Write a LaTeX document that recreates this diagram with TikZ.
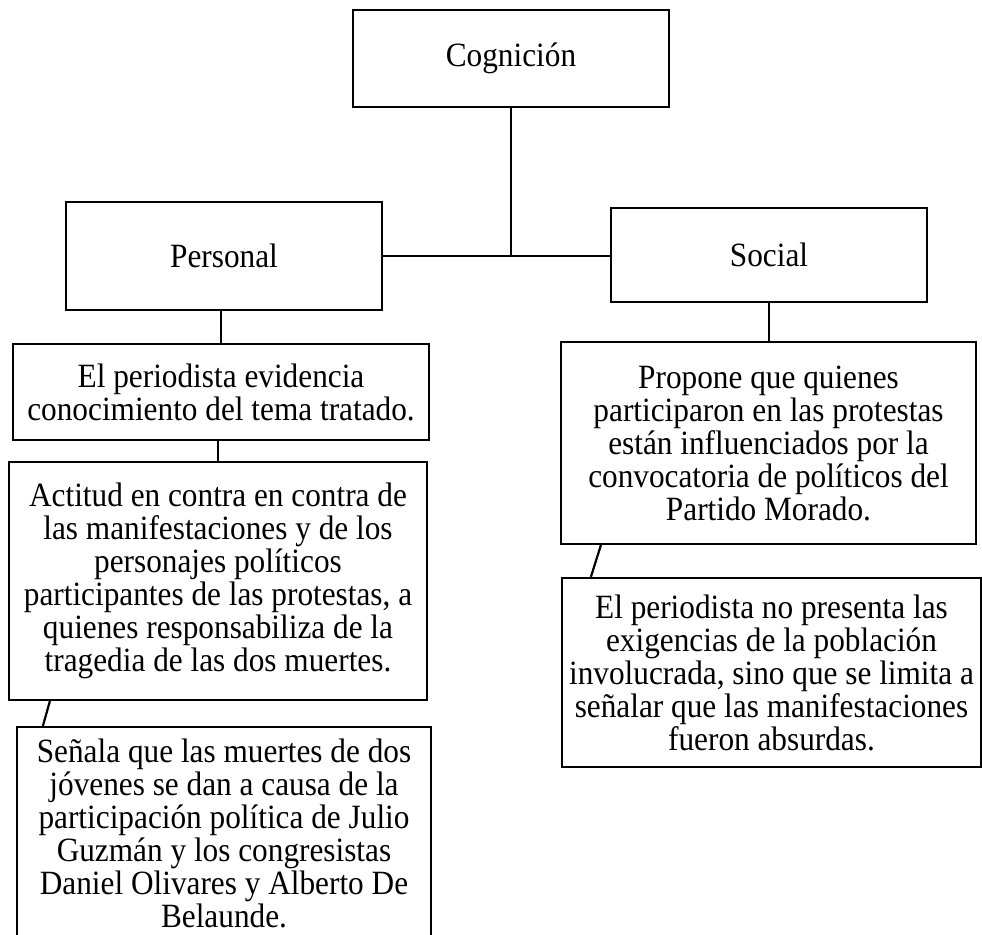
\documentclass[tikz,border=0pt]{standalone}
\usepackage{fontspec}
\setmainfont{Liberation Serif}[FakeStretch=0.92]
\begin{document}
\begin{tikzpicture}[x=1pt,y=-1pt,
    caja/.style={draw,line width=2.2pt,inner sep=0pt,align=center,
      font=\fontsize{34}{33}\selectfont},
    linea/.style={line width=2.2pt}]
  \useasboundingbox (0,0) rectangle (982,934);
  \clip (0,0) rectangle (982,934);

  \node[caja,minimum width=316,minimum height=97] (cog) at (511,58.5) {Cognición};
  \node[caja,minimum width=316,minimum height=108] (per) at (224,256) {Personal};
  \node[caja,minimum width=316,minimum height=94] (soc) at (769,255) {Social};

  \node[caja,minimum width=416,minimum height=96] (perA) at (221,392)
    {El periodista evidencia\\conocimiento del tema tratado.};
  \node[caja,minimum width=418,minimum height=238] (perB) at (218,581)
    {Actitud en contra en contra de\\las manifestaciones y de los\\personajes políticos\\participantes de las protestas, a\\quienes responsabiliza de la\\tragedia de las dos muertes.};
  \node[caja,minimum width=414,minimum height=213] (perC) at (224,833.5)
    {Señala que las muertes de dos\\jóvenes se dan a causa de la\\participación política de Julio\\Guzmán y los congresistas\\Daniel Olivares y Alberto De\\Belaunde.};

  \node[caja,minimum width=415,minimum height=202] (socA) at (768.5,443)
    {Propone que quienes\\participaron en las protestas\\están influenciados por la\\convocatoria de políticos del\\Partido Morado.};
  \node[caja,minimum width=419,minimum height=189] (socB) at (771.5,672.5)
    {El periodista no presenta las\\exigencias de la población\\involucrada, sino que se limita a\\señalar que las manifestaciones\\fueron absurdas.};

  \draw[linea] (cog.south) -- (cog.south |- per.east);
  \draw[linea] (per.east) -- (per.east -| soc.west);
  \draw[linea] (per.south -| perA.north) -- (perA.north);
  \draw[linea] (perA.south -| perB.north) -- (perB.north);
  \draw[linea] ([xshift=42]perB.south west) -- ([xshift=27]perC.north west);
  \draw[linea] (soc.south) -- (soc.south |- socA.north);
  \draw[linea] ([xshift=41]socA.south west) -- ([xshift=30]socB.north west);
\end{tikzpicture}
\end{document}
